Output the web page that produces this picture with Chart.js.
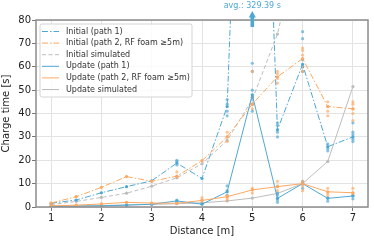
<!DOCTYPE html>
<html>
<head>
<meta charset="utf-8">
<script src="https://cdn.jsdelivr.net/npm/chart.js@4/dist/chart.umd.min.js"></script>
<style>
html,body{margin:0;padding:0;background:#fff;}
#wrap{width:374px;height:240px;position:relative;}
</style>
</head>
<body>
<div id="wrap"><canvas id="c" width="374" height="240"></canvas></div>
<script>
// ===== DATA =====
const DIST=[1,1.5,2,2.5,3,3.5,4,4.5,5,5.5,6,6.5,7];
const X_TICKS=[1,2,3,4,5,6,7];
const Y_TICKS=[0,10,20,30,40,50,60,70,80];
const LABELS=['Initial (path 1)','Initial (path 2, RF foam \u22655m)','Initial simulated','Update (path 1)','Update (path 2, RF foam \u22655m)','Update simulated'];

// mean charge times [s]
const INIT_P1=[1.6,3,6.1,8.7,11.2,18.8,12.2,43,329.39,33,61,25.8,30];
const INIT_P2=[1.7,4.4,8.4,13,11,13.2,19.8,30,44,55.7,63.5,43,42];
const INIT_SIM=[1,2.4,4.1,5.9,8.9,12.5,18.5,28.5,46,74,120,190,300];
const UPD_P1=[0.3,0.4,0.5,0.8,1.2,2.6,1.2,6.5,48,3.7,10,3.7,4.7];
const UPD_P2=[0.5,0.8,1.3,2,1.7,1.6,2.8,4.4,7.3,8.7,10,6.5,6.1];
const UPD_SIM=[0.2,0.4,0.6,0.9,1.1,1.4,1.8,2.6,3.8,5.8,10,19.5,51.5];

// individual runs (spread around the means)
const RUNS_INIT_P1_X=[3.5,3.5,3.5,4.5,4.5,4.5,4.5,5,5,5.5,5.5,5.5,5.5,6,6,6,6,6,6.5,6.5,6.5,7,7,7,7,7];
const RUNS_INIT_P1_Y=[18,19.5,20,39,41,44,46,58,61.5,30,32,35,36,58,60,63,72,75,24,25,27,28,29,31,32,36];
const RUNS_INIT_P2_X=[3.5,3.5,4.5,4.5,4.5,5,5,5,5,5.5,5.5,5.5,5.5,6,6,6,6,6,6.5,6.5,6.5,6.5,7,7,7,7,7];
const RUNS_INIT_P2_Y=[13,15,28,30,32,42,44,47,58,53,55,57,58,58,60,65,67,68,39,41,43,45,37,40,42,44,45];
const RUNS_UPD_P1_X=[3.5,3.5,4.5,4.5,4.5,5,5,5,5,5.5,5.5,5.5,5.5,6,6,6,6.5,6.5,7,7];
const RUNS_UPD_P1_Y=[2,3,5,7,9,41,44,47,50,2,3,5,6,8,10,11,2.5,4,3.5,5];
const RUNS_UPD_P2_X=[4,4,4,4.5,4.5,4.5,5,5,5.5,5.5,5.5,6,6,6,6.5,6.5,6.5,7,7,7];
const RUNS_UPD_P2_Y=[1.5,3,4,3,4,5,6,8,7,9,11,7,9,11,5,6,8,5,6,8];

const AVG_X=5;
const AVG_TEXT='avg.: 329.39 s';

// ===== STYLE =====
const BLUE='#4ea8d4',ORANGE='#fda862',GREY='#bdbdbd',INK='#222';
const FONT="'DejaVu Sans',sans-serif";
const DASHDOT=[6,2,1.5,2],DASH=[4,2.5];

const pts=(xs,ys)=>xs.map((x,i)=>({x:x,y:ys[i]}));
function meanLine(label,ys,color,dash,order){
  return {label:label,data:pts(DIST,ys),borderColor:color,backgroundColor:color,borderWidth:1,borderDash:dash,
    pointRadius:1.6,pointBorderWidth:0,pointBackgroundColor:color,tension:0,fill:false,order:order};
}
function runs(xs,ys,color,order){
  return {type:'scatter',label:'',data:pts(xs,ys),pointRadius:1.6,pointBorderWidth:0,
    pointBackgroundColor:color+'aa',showLine:false,order:order};
}
const STYLES=[
  {c:BLUE,d:DASHDOT},{c:ORANGE,d:DASHDOT},{c:GREY,d:DASH},
  {c:BLUE,d:[]},{c:ORANGE,d:[]},{c:GREY,d:[]}
];

const overlay={
  id:'overlay',
  afterDraw(chart){
    const ctx=chart.ctx,a=chart.chartArea,xs=chart.scales.x;
    ctx.save();
    // frame
    ctx.strokeStyle='#8c8c8c';ctx.lineWidth=1.5;
    ctx.strokeRect(a.left,a.top,a.right-a.left,a.bottom-a.top);
    // off-scale average marker
    const px=xs.getPixelForValue(AVG_X);
    ctx.fillStyle=BLUE;
    ctx.fillRect(px-1.8,17,3.6,10);
    ctx.beginPath();ctx.moveTo(px-3.5,17.5);ctx.lineTo(px+3.5,17.5);ctx.lineTo(px,11);ctx.closePath();ctx.fill();
    ctx.font='8px '+FONT;ctx.textAlign='center';ctx.textBaseline='middle';
    ctx.fillText(AVG_TEXT,px,5.5);
    // legend
    const lx=a.left+4,ly=a.top+4,lw=152,lh=73;
    ctx.beginPath();
    if(ctx.roundRect)ctx.roundRect(lx,ly,lw,lh,2);else ctx.rect(lx,ly,lw,lh);
    ctx.fillStyle='rgba(255,255,255,0.85)';ctx.fill();
    ctx.strokeStyle='#d4d4d4';ctx.lineWidth=1;ctx.stroke();
    ctx.textAlign='left';ctx.font='8px '+FONT;
    LABELS.forEach((t,i)=>{
      const y=ly+7.5+i*11.6;
      ctx.strokeStyle=STYLES[i].c;ctx.lineWidth=1;ctx.setLineDash(STYLES[i].d);
      ctx.beginPath();ctx.moveTo(lx+2,y);ctx.lineTo(lx+19,y);ctx.stroke();
      ctx.setLineDash([]);
      ctx.fillStyle='#333';ctx.fillText(t,lx+26,y);
    });
    ctx.restore();
  }
};

new Chart(document.getElementById('c'),{
  type:'line',
  data:{datasets:[
    meanLine(LABELS[0],INIT_P1,BLUE,DASHDOT,3),
    meanLine(LABELS[1],INIT_P2,ORANGE,DASHDOT,2),
    meanLine(LABELS[2],INIT_SIM,GREY,DASH,6),
    meanLine(LABELS[3],UPD_P1,BLUE,[],1),
    meanLine(LABELS[4],UPD_P2,ORANGE,[],0),
    meanLine(LABELS[5],UPD_SIM,GREY,[],5),
    runs(RUNS_INIT_P1_X,RUNS_INIT_P1_Y,BLUE,4),
    runs(RUNS_INIT_P2_X,RUNS_INIT_P2_Y,ORANGE,3),
    runs(RUNS_UPD_P1_X,RUNS_UPD_P1_Y,BLUE,2),
    runs(RUNS_UPD_P2_X,RUNS_UPD_P2_Y,ORANGE,1)
  ]},
  options:{
    responsive:false,animation:false,
    layout:{padding:{top:20,right:6,left:0,bottom:0}},
    plugins:{legend:{display:false},tooltip:{enabled:false}},
    scales:{
      x:{type:'linear',min:0.7,max:7.3,
        afterBuildTicks:s=>{s.ticks=X_TICKS.map(v=>({value:v}));},
        afterFit:s=>{s.height=33;},
        grid:{color:'#e3e3e3',lineWidth:1,tickLength:4,tickColor:'#777'},
        border:{display:false},
        ticks:{color:INK,font:{family:FONT,size:10},padding:1,maxRotation:0},
        title:{display:true,text:'Distance [m]',color:INK,font:{family:FONT,size:10},padding:{top:0,bottom:3}}},
      y:{min:0,max:80,
        afterBuildTicks:s=>{s.ticks=Y_TICKS.map(v=>({value:v}));},
        afterFit:s=>{s.width=36;},
        grid:{color:'#e3e3e3',lineWidth:1,tickLength:4,tickColor:'#777'},
        border:{display:false},
        ticks:{color:INK,font:{family:FONT,size:10},padding:1},
        title:{display:true,text:'Charge time [s]',color:INK,font:{family:FONT,size:10},padding:{top:0,bottom:1}}}
    }
  },
  plugins:[overlay]
});
</script>
</body>
</html>
